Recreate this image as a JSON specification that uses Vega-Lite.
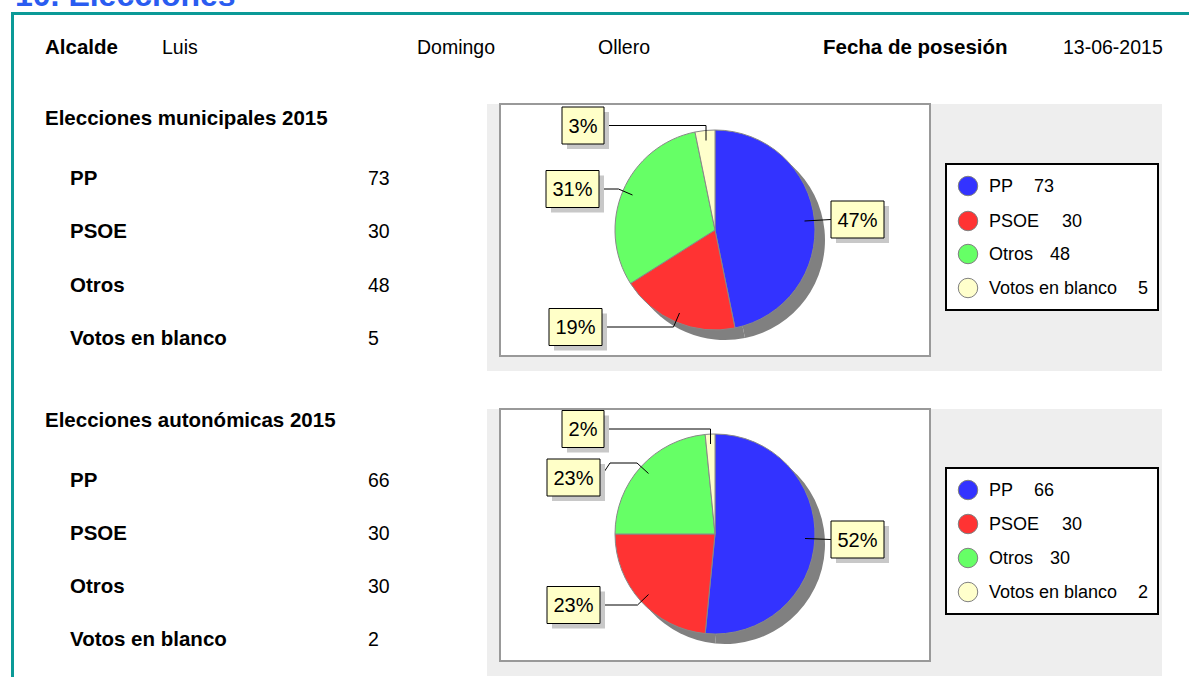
{
  "$schema": "https://vega.github.io/schema/vega-lite/v6.json",
  "width": 1189,
  "height": 677,
  "autosize": {"type": "fit", "contains": "padding"},
  "padding": 0,
  "background": "white",
  "config": {"font": "Liberation Sans", "view": {"stroke": null}},
  "datasets": {
    "titulo": [{"texto": "10. Elecciones"}],
    "cabecera": [
      {"texto": "Alcalde", "tipo": "etiqueta", "col": 0},
      {"texto": "Luis", "tipo": "valor", "col": 1},
      {"texto": "Domingo", "tipo": "valor", "col": 2},
      {"texto": "Ollero", "tipo": "valor", "col": 3},
      {"texto": "Fecha de posesión", "tipo": "etiqueta", "col": 4},
      {"texto": "13-06-2015", "tipo": "valor", "col": 5}
    ],
    "secciones": [
      {"eleccion": "municipales", "titulo": "Elecciones municipales 2015"},
      {"eleccion": "autonomicas", "titulo": "Elecciones autonómicas 2015"}
    ],
    "votos": [
      {"eleccion": "municipales", "partido": "PP", "votos": 73, "pct": "47%", "k": 0},
      {"eleccion": "municipales", "partido": "PSOE", "votos": 30, "pct": "19%", "k": 1},
      {"eleccion": "municipales", "partido": "Otros", "votos": 48, "pct": "31%", "k": 2},
      {"eleccion": "municipales", "partido": "Votos en blanco", "votos": 5, "pct": "3%", "k": 3},
      {"eleccion": "autonomicas", "partido": "PP", "votos": 66, "pct": "52%", "k": 4},
      {"eleccion": "autonomicas", "partido": "PSOE", "votos": 30, "pct": "23%", "k": 5},
      {"eleccion": "autonomicas", "partido": "Otros", "votos": 30, "pct": "23%", "k": 6},
      {"eleccion": "autonomicas", "partido": "Votos en blanco", "votos": 2, "pct": "2%", "k": 7}
    ]
  },
  "resolve": {"scale": {"x": "independent", "y": "independent", "theta": "independent", "shape": "independent"}},
  "layer": [
    {
      "data": {"name": "titulo"},
      "mark": {"type": "rect", "color": "#0b9a97"},
      "encoding": {
        "x": {"datum": "marco", "type": "nominal", "scale": {"type": "band", "domain": ["marco"], "range": [11, 1189], "paddingInner": 0, "paddingOuter": 0}, "axis": null},
        "y": {"datum": "marco", "type": "nominal", "scale": {"type": "band", "domain": ["marco"], "range": [12, 15], "paddingInner": 0, "paddingOuter": 0}, "axis": null}
      }
    },
    {
      "data": {"name": "titulo"},
      "mark": {"type": "rect", "color": "#0b9a97"},
      "encoding": {
        "x": {"datum": "marco", "type": "nominal", "scale": {"type": "band", "domain": ["marco"], "range": [11, 14], "paddingInner": 0, "paddingOuter": 0}, "axis": null},
        "y": {"datum": "marco", "type": "nominal", "scale": {"type": "band", "domain": ["marco"], "range": [12, 677], "paddingInner": 0, "paddingOuter": 0}, "axis": null}
      }
    },
    {
      "data": {"name": "titulo"},
      "mark": {"type": "text", "clip": true, "fontSize": 32, "fontWeight": "bold", "color": "#2a5cf0", "align": "left", "baseline": "alphabetic"},
      "encoding": {
        "text": {"field": "texto"},
        "x": {"field": "texto", "type": "nominal", "scale": {"type": "point", "domain": ["10. Elecciones"], "range": [15, 15]}, "axis": null},
        "y": {"field": "texto", "type": "nominal", "scale": {"type": "point", "domain": ["10. Elecciones"], "range": [6, 6]}, "axis": null}
      }
    },
    {
      "data": {"name": "cabecera"},
      "transform": [{"filter": "datum.tipo == 'etiqueta'"}],
      "mark": {"type": "text", "fontSize": 20.5, "fontWeight": "bold", "align": "left", "baseline": "middle"},
      "encoding": {
        "text": {"field": "texto"},
        "x": {"field": "col", "type": "quantitative", "scale": {"domain": [0, 1, 2, 3, 4, 5], "range": [45, 162, 417, 598, 823, 1063], "nice": false, "zero": false}, "axis": null},
        "y": {"datum": "cabecera", "type": "nominal", "scale": {"type": "point", "domain": ["cabecera"], "range": [48, 48]}, "axis": null}
      }
    },
    {
      "data": {"name": "cabecera"},
      "transform": [{"filter": "datum.tipo == 'valor'"}],
      "mark": {"type": "text", "fontSize": 19.5, "align": "left", "baseline": "middle"},
      "encoding": {
        "text": {"field": "texto"},
        "x": {"field": "col", "type": "quantitative", "scale": {"domain": [0, 1, 2, 3, 4, 5], "range": [45, 162, 417, 598, 823, 1063], "nice": false, "zero": false}, "axis": null},
        "y": {"datum": "cabecera", "type": "nominal", "scale": {"type": "point", "domain": ["cabecera"], "range": [48, 48]}, "axis": null}
      }
    },
    {
      "data": {"name": "secciones"},
      "mark": {"type": "rect", "color": "#eeeeee"},
      "encoding": {
        "x": {"datum": "panel", "type": "nominal", "scale": {"type": "band", "domain": ["panel"], "range": [487, 1162], "paddingInner": 0, "paddingOuter": 0}, "axis": null},
        "y": {"field": "eleccion", "type": "nominal", "scale": {"type": "band", "domain": ["municipales", "autonomicas"], "range": [104, 676], "paddingInner": 0.125, "paddingOuter": 0}, "axis": null}
      }
    },
    {
      "data": {"name": "secciones"},
      "mark": {"type": "rect", "fill": "white", "stroke": "#999999", "strokeWidth": 2},
      "encoding": {
        "x": {"datum": "grafico", "type": "nominal", "scale": {"type": "band", "domain": ["grafico"], "range": [500, 930], "paddingInner": 0, "paddingOuter": 0}, "axis": null},
        "y": {"field": "eleccion", "type": "nominal", "scale": {"type": "band", "domain": ["municipales", "autonomicas"], "range": [104, 661], "paddingInner": 0.1738, "paddingOuter": 0}, "axis": null}
      }
    },
    {
      "data": {"name": "secciones"},
      "mark": {"type": "rect", "fill": "white", "stroke": "black", "strokeWidth": 2},
      "encoding": {
        "x": {"datum": "leyenda", "type": "nominal", "scale": {"type": "band", "domain": ["leyenda"], "range": [946, 1158], "paddingInner": 0, "paddingOuter": 0}, "axis": null},
        "y": {"field": "eleccion", "type": "nominal", "scale": {"type": "band", "domain": ["municipales", "autonomicas"], "range": [164, 614], "paddingInner": 0.5197, "paddingOuter": 0}, "axis": null}
      }
    },
    {
      "data": {"name": "secciones"},
      "mark": {"type": "text", "fontSize": 20.5, "fontWeight": "bold", "align": "left", "baseline": "middle"},
      "encoding": {
        "text": {"field": "titulo"},
        "x": {"datum": "titulo", "type": "nominal", "scale": {"type": "point", "domain": ["titulo"], "range": [45, 45]}, "axis": null},
        "y": {"field": "eleccion", "type": "nominal", "scale": {"type": "point", "domain": ["municipales", "autonomicas"], "range": [119, 421], "padding": 0}, "axis": null}
      }
    },
    {
      "data": {"name": "votos"},
      "mark": {"type": "text", "fontSize": 20.5, "fontWeight": "bold", "align": "left", "baseline": "middle"},
      "encoding": {
        "text": {"field": "partido"},
        "x": {"datum": "partido", "type": "nominal", "scale": {"type": "point", "domain": ["partido", "votos"], "range": [70, 368], "padding": 0}, "axis": null},
        "y": {"field": "k", "type": "quantitative", "scale": {"domain": [0, 1, 2, 3, 4, 5, 6, 7], "range": [178.5, 231.5, 285.5, 338.5, 480.5, 533.5, 586.5, 639.5], "nice": false, "zero": false}, "axis": null}
      }
    },
    {
      "data": {"name": "votos"},
      "mark": {"type": "text", "fontSize": 19.5, "align": "left", "baseline": "middle"},
      "encoding": {
        "text": {"field": "votos"},
        "x": {"datum": "votos", "type": "nominal", "scale": {"type": "point", "domain": ["partido", "votos"], "range": [70, 368], "padding": 0}, "axis": null},
        "y": {"field": "k", "type": "quantitative", "scale": {"domain": [0, 1, 2, 3, 4, 5, 6, 7], "range": [178.5, 231.5, 285.5, 338.5, 480.5, 533.5, 586.5, 639.5], "nice": false, "zero": false}, "axis": null}
      }
    },
    {
      "data": {"name": "votos"},
      "transform": [{"filter": "datum.eleccion == 'municipales'"}],
      "mark": {"type": "arc", "outerRadius": 100, "fill": "#808080", "xOffset": 10, "yOffset": 10},
      "encoding": {
        "theta": {"field": "votos", "type": "quantitative", "stack": true},
        "order": {"field": "k", "type": "quantitative"},
        "x": {"field": "eleccion", "type": "nominal", "scale": {"type": "point", "domain": ["municipales", "autonomicas"], "range": [715, 715], "padding": 0}, "axis": null},
        "y": {"field": "eleccion", "type": "nominal", "scale": {"type": "point", "domain": ["municipales", "autonomicas"], "range": [230, 534], "padding": 0}, "axis": null}
      }
    },
    {
      "data": {"name": "votos"},
      "transform": [{"filter": "datum.eleccion == 'municipales'"}],
      "mark": {"type": "arc", "outerRadius": 100, "stroke": "#888888", "strokeWidth": 1},
      "encoding": {
        "theta": {"field": "votos", "type": "quantitative", "stack": true},
        "order": {"field": "k", "type": "quantitative"},
        "color": {"field": "partido", "type": "nominal", "scale": {"domain": ["PP", "PSOE", "Otros", "Votos en blanco"], "range": ["#3333ff", "#ff3333", "#66ff66", "#ffffcc"]}, "legend": null},
        "x": {"field": "eleccion", "type": "nominal", "scale": {"type": "point", "domain": ["municipales", "autonomicas"], "range": [715, 715], "padding": 0}, "axis": null},
        "y": {"field": "eleccion", "type": "nominal", "scale": {"type": "point", "domain": ["municipales", "autonomicas"], "range": [230, 534], "padding": 0}, "axis": null}
      }
    },
    {
      "data": {"name": "votos"},
      "transform": [{"filter": "datum.eleccion == 'autonomicas'"}],
      "mark": {"type": "arc", "outerRadius": 100, "fill": "#808080", "xOffset": 10, "yOffset": 10},
      "encoding": {
        "theta": {"field": "votos", "type": "quantitative", "stack": true},
        "order": {"field": "k", "type": "quantitative"},
        "x": {"field": "eleccion", "type": "nominal", "scale": {"type": "point", "domain": ["municipales", "autonomicas"], "range": [715, 715], "padding": 0}, "axis": null},
        "y": {"field": "eleccion", "type": "nominal", "scale": {"type": "point", "domain": ["municipales", "autonomicas"], "range": [230, 534], "padding": 0}, "axis": null}
      }
    },
    {
      "data": {"name": "votos"},
      "transform": [{"filter": "datum.eleccion == 'autonomicas'"}],
      "mark": {"type": "arc", "outerRadius": 100, "stroke": "#888888", "strokeWidth": 1},
      "encoding": {
        "theta": {"field": "votos", "type": "quantitative", "stack": true},
        "order": {"field": "k", "type": "quantitative"},
        "color": {"field": "partido", "type": "nominal", "scale": {"domain": ["PP", "PSOE", "Otros", "Votos en blanco"], "range": ["#3333ff", "#ff3333", "#66ff66", "#ffffcc"]}, "legend": null},
        "x": {"field": "eleccion", "type": "nominal", "scale": {"type": "point", "domain": ["municipales", "autonomicas"], "range": [715, 715], "padding": 0}, "axis": null},
        "y": {"field": "eleccion", "type": "nominal", "scale": {"type": "point", "domain": ["municipales", "autonomicas"], "range": [230, 534], "padding": 0}, "axis": null}
      }
    },
    {
      "data": {"name": "votos"},
      "mark": {"type": "point", "size": 4, "filled": false, "color": "black", "strokeWidth": 1, "opacity": 1},
      "encoding": {
        "shape": {"field": "k", "type": "nominal", "scale": {"domain": [0, 1, 2, 3, 4, 5, 6, 7], "range": ["M-26.5,0L-53,1.5", "M26.5,0L98,0L104,-14", "M26.5,0L46,0L60,6", "M21,0L123,0L123,15", "M-26.5,0L-52.5,-1", "M26.5,0L64,0L75,-10.5", "M26.5,0.5L36.5,-14.5L63.5,-14.5L75,-4", "M21,0L127.5,0L127.5,15"]}, "legend": null},
        "x": {"field": "k", "type": "quantitative", "scale": {"domain": [0, 1, 2, 3, 4, 5, 6, 7], "range": [857.5, 575.5, 572.5, 583, 857.5, 573.5, 573.5, 583], "nice": false, "zero": false}, "axis": null},
        "y": {"field": "k", "type": "quantitative", "scale": {"domain": [0, 1, 2, 3, 4, 5, 6, 7], "range": [219.5, 327, 189, 125.5, 539.5, 605, 477.5, 429], "nice": false, "zero": false}, "axis": null}
      }
    },
    {
      "data": {"name": "votos"},
      "mark": {"type": "point", "size": 4, "filled": true, "fill": "#c8c8c8", "strokeWidth": 0, "opacity": 1, "xOffset": 5, "yOffset": 5},
      "encoding": {
        "shape": {"field": "partido", "type": "nominal", "scale": {"domain": ["PP", "PSOE", "Otros", "Votos en blanco"], "range": ["M-26.5,-18.5L26.5,-18.5L26.5,18.5L-26.5,18.5Z", "M-26.5,-18.5L26.5,-18.5L26.5,18.5L-26.5,18.5Z", "M-26.5,-18.5L26.5,-18.5L26.5,18.5L-26.5,18.5Z", "M-21,-18.5L21,-18.5L21,18.5L-21,18.5Z"]}, "legend": null},
        "x": {"field": "k", "type": "quantitative", "scale": {"domain": [0, 1, 2, 3, 4, 5, 6, 7], "range": [857.5, 575.5, 572.5, 583, 857.5, 573.5, 573.5, 583], "nice": false, "zero": false}, "axis": null},
        "y": {"field": "k", "type": "quantitative", "scale": {"domain": [0, 1, 2, 3, 4, 5, 6, 7], "range": [219.5, 327, 189, 125.5, 539.5, 605, 477.5, 429], "nice": false, "zero": false}, "axis": null}
      }
    },
    {
      "data": {"name": "votos"},
      "mark": {"type": "point", "size": 4, "filled": true, "fill": "#ffffc8", "stroke": "black", "strokeWidth": 1, "opacity": 1},
      "encoding": {
        "shape": {"field": "partido", "type": "nominal", "scale": {"domain": ["PP", "PSOE", "Otros", "Votos en blanco"], "range": ["M-26.5,-18.5L26.5,-18.5L26.5,18.5L-26.5,18.5Z", "M-26.5,-18.5L26.5,-18.5L26.5,18.5L-26.5,18.5Z", "M-26.5,-18.5L26.5,-18.5L26.5,18.5L-26.5,18.5Z", "M-21,-18.5L21,-18.5L21,18.5L-21,18.5Z"]}, "legend": null},
        "x": {"field": "k", "type": "quantitative", "scale": {"domain": [0, 1, 2, 3, 4, 5, 6, 7], "range": [857.5, 575.5, 572.5, 583, 857.5, 573.5, 573.5, 583], "nice": false, "zero": false}, "axis": null},
        "y": {"field": "k", "type": "quantitative", "scale": {"domain": [0, 1, 2, 3, 4, 5, 6, 7], "range": [219.5, 327, 189, 125.5, 539.5, 605, 477.5, 429], "nice": false, "zero": false}, "axis": null}
      }
    },
    {
      "data": {"name": "votos"},
      "mark": {"type": "text", "fontSize": 20, "align": "center", "baseline": "middle", "color": "black"},
      "encoding": {
        "text": {"field": "pct"},
        "x": {"field": "k", "type": "quantitative", "scale": {"domain": [0, 1, 2, 3, 4, 5, 6, 7], "range": [857.5, 575.5, 572.5, 583, 857.5, 573.5, 573.5, 583], "nice": false, "zero": false}, "axis": null},
        "y": {"field": "k", "type": "quantitative", "scale": {"domain": [0, 1, 2, 3, 4, 5, 6, 7], "range": [220.5, 328, 190, 126.5, 540.5, 606, 478.5, 430], "nice": false, "zero": false}, "axis": null}
      }
    },
    {
      "data": {"name": "votos"},
      "mark": {"type": "point", "shape": "circle", "size": 380, "filled": true, "stroke": "#808080", "strokeWidth": 1, "opacity": 1},
      "encoding": {
        "color": {"field": "partido", "type": "nominal", "scale": {"domain": ["PP", "PSOE", "Otros", "Votos en blanco"], "range": ["#3333ff", "#ff3333", "#66ff66", "#ffffcc"]}, "legend": null},
        "x": {"datum": "icono", "type": "nominal", "scale": {"type": "point", "domain": ["icono", "texto"], "range": [968, 989], "padding": 0}, "axis": null},
        "y": {"field": "k", "type": "quantitative", "scale": {"domain": [0, 1, 2, 3, 4, 5, 6, 7], "range": [186, 221, 254, 288, 490, 524, 558, 592], "nice": false, "zero": false}, "axis": null}
      }
    },
    {
      "data": {"name": "votos"},
      "mark": {"type": "text", "fontSize": 18, "align": "left", "baseline": "middle"},
      "encoding": {
        "text": {"field": "partido"},
        "x": {"datum": "texto", "type": "nominal", "scale": {"type": "point", "domain": ["icono", "texto"], "range": [968, 989], "padding": 0}, "axis": null},
        "y": {"field": "k", "type": "quantitative", "scale": {"domain": [0, 1, 2, 3, 4, 5, 6, 7], "range": [187, 222, 255, 289, 491, 525, 559, 593], "nice": false, "zero": false}, "axis": null}
      }
    },
    {
      "data": {"name": "votos"},
      "mark": {"type": "text", "fontSize": 18, "align": "left", "baseline": "middle"},
      "encoding": {
        "text": {"field": "votos"},
        "x": {"field": "k", "type": "quantitative", "scale": {"domain": [0, 1, 2, 3, 4, 5, 6, 7], "range": [1034, 1062, 1050, 1138, 1034, 1062, 1050, 1138], "nice": false, "zero": false}, "axis": null},
        "y": {"field": "k", "type": "quantitative", "scale": {"domain": [0, 1, 2, 3, 4, 5, 6, 7], "range": [187, 222, 255, 289, 491, 525, 559, 593], "nice": false, "zero": false}, "axis": null}
      }
    }
  ]
}
